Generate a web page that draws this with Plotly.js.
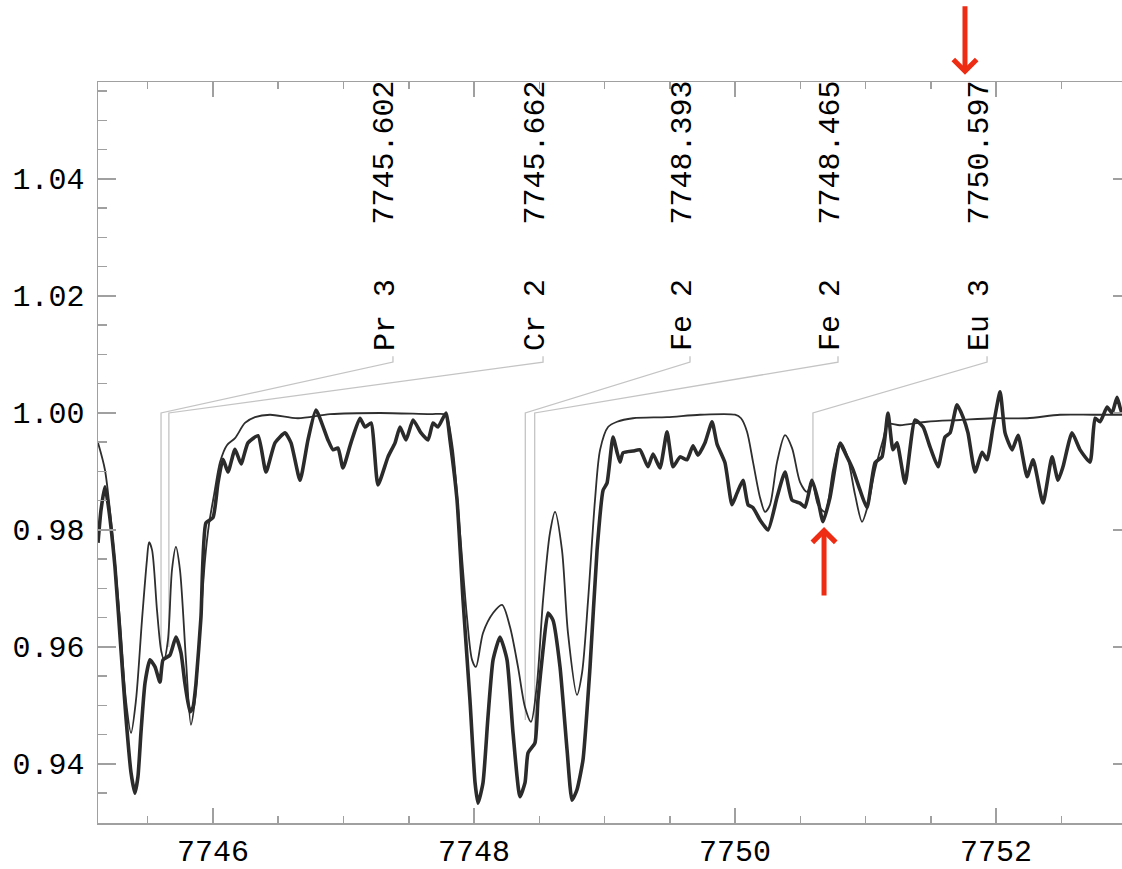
<!DOCTYPE html>
<html>
<head>
<meta charset="utf-8">
<script src="https://cdn.plot.ly/plotly-3.0.1.min.js"></script>
<style>
html,body{margin:0;padding:0;background:#fff;overflow:hidden;}
#chart{width:1140px;height:869px;}
</style>
</head>
<body>
<div id="chart"></div>
<script>
// ---- model (synthetic) spectrum: thin line ----
const modelWave = [
7745.119,7745.172,7745.226,7745.287,7745.333,7745.372,7745.410,7745.456,7745.494,7745.510,
7745.533,7745.571,7745.602,7745.625,7745.655,7745.686,7745.716,7745.747,7745.793,7745.831,
7745.862,7745.900,7745.939,7745.969,7746.008,7746.054,7746.107,7746.169,7746.245,7746.322,
7746.437,7746.651,7746.897,7747.280,7747.663,7747.770,7747.793,7747.839,7747.893,7747.946,
7747.985,7748.015,7748.069,7748.146,7748.215,7748.276,7748.337,7748.391,7748.437,7748.483,
7748.529,7748.582,7748.621,7748.674,7748.720,7748.789,7748.828,7748.874,7748.927,7748.966,
7749.027,7749.096,7749.218,7749.479,7749.732,7750.000,7750.046,7750.092,7750.138,7750.192,
7750.230,7750.268,7750.322,7750.383,7750.437,7750.498,7750.552,7750.590,7750.636,7750.690,
7750.751,7750.805,7750.858,7750.920,7750.973,7751.019,7751.073,7751.134,7751.172,7751.264,
7751.471,7751.724,7751.977,7752.238,7752.490,7752.743,7753.034];
const modelFlux = [
0.9949,0.9903,0.9800,0.9646,0.9509,0.9453,0.9509,0.9646,0.9749,0.9779,
0.9766,0.9663,0.9595,0.9578,0.9612,0.9732,0.9771,0.9732,0.9578,0.9467,
0.9509,0.9629,0.9749,0.9809,0.9860,0.9916,0.9945,0.9957,0.9983,0.9993,
0.9997,0.9991,0.9998,1.0000,0.9998,0.9998,0.9993,0.9937,0.9795,0.9651,
0.9578,0.9566,0.9624,0.9658,0.9672,0.9634,0.9566,0.9497,0.9472,0.9538,
0.9680,0.9795,0.9831,0.9766,0.9624,0.9518,0.9556,0.9680,0.9851,0.9937,
0.9976,0.9985,0.9991,0.9993,0.9997,0.9997,0.9991,0.9968,0.9916,0.9855,
0.9831,0.9843,0.9916,0.9962,0.9940,0.9882,0.9865,0.9882,0.9843,0.9831,
0.9903,0.9950,0.9928,0.9860,0.9814,0.9843,0.9903,0.9954,0.9981,0.9979,
0.9985,0.9988,0.9991,0.9991,0.9997,0.9997,0.9997];

// ---- observed spectrum: thick line ----
const obsWave = [
7745.119,7745.142,7745.172,7745.195,7745.249,7745.295,7745.333,7745.372,7745.402,7745.425,
7745.448,7745.479,7745.517,7745.556,7745.594,7745.617,7745.670,7745.716,7745.755,7745.785,
7745.824,7745.847,7745.870,7745.908,7745.946,7746.000,7746.038,7746.077,7746.115,7746.169,
7746.215,7746.268,7746.345,7746.406,7746.475,7746.552,7746.598,7746.667,7746.728,7746.789,
7746.881,7746.920,7746.958,7746.996,7747.057,7747.126,7747.165,7747.211,7747.264,7747.341,
7747.395,7747.433,7747.479,7747.533,7747.594,7747.648,7747.686,7747.724,7747.785,7747.816,
7747.870,7747.916,7747.969,7748.008,7748.031,7748.069,7748.107,7748.146,7748.199,7748.253,
7748.299,7748.352,7748.391,7748.414,7748.467,7748.490,7748.529,7748.567,7748.605,7748.659,
7748.713,7748.751,7748.789,7748.835,7748.889,7748.943,7748.989,7749.019,7749.065,7749.096,
7749.119,7749.142,7749.218,7749.272,7749.333,7749.372,7749.425,7749.479,7749.525,7749.579,
7749.632,7749.678,7749.716,7749.770,7749.824,7749.862,7749.923,7749.977,7750.015,7750.061,
7750.100,7750.138,7750.192,7750.253,7750.322,7750.383,7750.437,7750.498,7750.536,7750.590,
7750.636,7750.674,7750.728,7750.805,7750.858,7750.904,7750.958,7751.011,7751.073,7751.126,
7751.172,7751.210,7751.241,7751.303,7751.379,7751.441,7751.494,7751.556,7751.609,7751.648,
7751.701,7751.747,7751.785,7751.839,7751.893,7751.931,7751.977,7752.031,7752.069,7752.123,
7752.169,7752.238,7752.284,7752.360,7752.429,7752.475,7752.513,7752.582,7752.644,7752.720,
7752.759,7752.797,7752.851,7752.889,7752.927,7752.966,7753.034];
const obsFlux = [
0.9778,0.9834,0.9874,0.9846,0.9737,0.9595,0.9480,0.9385,0.9350,0.9378,
0.9453,0.9538,0.9578,0.9566,0.9540,0.9578,0.9586,0.9617,0.9590,0.9538,
0.9489,0.9497,0.9538,0.9651,0.9812,0.9821,0.9880,0.9921,0.9899,0.9938,
0.9913,0.9949,0.9961,0.9899,0.9949,0.9966,0.9949,0.9885,0.9954,1.0005,
0.9954,0.9937,0.9940,0.9906,0.9949,0.9991,0.9976,0.9983,0.9877,0.9925,
0.9949,0.9976,0.9954,0.9988,0.9966,0.9954,0.9983,0.9976,1.0000,0.9954,
0.9851,0.9680,0.9509,0.9368,0.9333,0.9368,0.9480,0.9578,0.9617,0.9578,
0.9453,0.9344,0.9368,0.9419,0.9436,0.9509,0.9595,0.9658,0.9646,0.9566,
0.9424,0.9338,0.9356,0.9407,0.9566,0.9766,0.9868,0.9880,0.9959,0.9933,
0.9916,0.9932,0.9935,0.9937,0.9908,0.9930,0.9906,0.9968,0.9908,0.9925,
0.9920,0.9944,0.9928,0.9949,0.9985,0.9947,0.9915,0.9843,0.9863,0.9885,
0.9843,0.9838,0.9817,0.9800,0.9856,0.9899,0.9851,0.9846,0.9839,0.9885,
0.9851,0.9814,0.9856,0.9947,0.9925,0.9903,0.9868,0.9838,0.9915,0.9925,
1.0000,0.9937,0.9949,0.9880,0.9988,0.9976,0.9942,0.9908,0.9959,0.9966,
1.0014,0.9993,0.9966,0.9899,0.9933,0.9920,0.9976,1.0036,0.9966,0.9937,
0.9962,0.9891,0.9920,0.9846,0.9925,0.9885,0.9908,0.9966,0.9937,0.9916,
0.9991,0.9985,1.0010,1.0000,1.0027,1.0000,1.0005];

// ---- line identifications ----
const lineWave  = [7745.602, 7745.662, 7748.393, 7748.465, 7750.597];
const lineIon   = ['Pr 3', 'Cr 2', 'Fe 2', 'Fe 2', 'Eu 3'];
const lineDepth = [0.9590, 0.9600, 0.9475, 0.9430, 0.9875];
const labelWave = [7747.379, 7748.529, 7749.655, 7750.789, 7751.931];
const continuum = 1.0;
const labelFootFlux = 1.0087;
const labelStubFlux = 1.0097;
const ionTextFlux = 1.01675;
const waveTextFlux = 1.04453;

// ---- red arrow markers (tip position, tail offset in px) ----
const arrowWave = [7751.762, 7750.682];
const arrowFlux = [1.0578, 0.9805];
const arrowTail = [-70, 70];

// ---- axes ----
const xRange = [7745.119, 7753.034];
const yRange = [0.92991, 1.05658];

const traces = [];
lineWave.forEach((w, i) => {
  traces.push({
    x: [w, w, labelWave[i], labelWave[i]],
    y: [lineDepth[i], continuum, labelFootFlux, labelStubFlux],
    mode: 'lines', type: 'scatter',
    line: {color: '#c4c4c4', width: 1.3},
    hoverinfo: 'skip', showlegend: false
  });
});
traces.push({
  x: modelWave, y: modelFlux, mode: 'lines', type: 'scatter',
  line: {color: '#2e2e2e', width: 1.8, shape: 'spline', smoothing: 0.8},
  showlegend: false
});
traces.push({
  x: obsWave, y: obsFlux, mode: 'lines', type: 'scatter',
  line: {color: '#2b2b2b', width: 3.6, shape: 'spline', smoothing: 0.5},
  showlegend: false
});

const mono = 'Liberation Mono, Courier New, monospace';
const annotations = [];
lineWave.forEach((w, i) => {
  annotations.push({
    x: labelWave[i], y: waveTextFlux, xref: 'x', yref: 'y',
    text: w.toFixed(3), showarrow: false, textangle: -90,
    xanchor: 'center', yanchor: 'middle', xshift: -7,
    font: {family: mono, size: 30, color: '#000'}
  });
  annotations.push({
    x: labelWave[i], y: ionTextFlux, xref: 'x', yref: 'y',
    text: lineIon[i], showarrow: false, textangle: -90,
    xanchor: 'center', yanchor: 'middle', xshift: -7,
    font: {family: mono, size: 30, color: '#000'}
  });
});
const ySpan = yRange[1] - yRange[0];
arrowWave.forEach((w, i) => {
  annotations.push({
    x: w, y: (arrowFlux[i] - yRange[0]) / ySpan, xref: 'x', yref: 'paper',
    ax: 0, ay: arrowTail[i], text: '', showarrow: true,
    arrowhead: 4, arrowsize: 0.9, arrowwidth: 5, arrowcolor: '#ee2c13', standoff: 0
  });
});

const axisCommon = {
  showline: true, linecolor: '#a0a0a0', linewidth: 1.5, mirror: 'allticks',
  ticks: 'inside', tickcolor: '#a0a0a0', tickwidth: 1.5,
  showgrid: false, zeroline: false,
  tickfont: {family: mono, size: 30, color: '#000'}
};

const layout = {
  width: 1140, height: 869,
  margin: {l: 98, r: 9, t: 82, b: 46},
  paper_bgcolor: '#fff', plot_bgcolor: '#fff',
  showlegend: false,
  xaxis: Object.assign({}, axisCommon, {
    range: xRange, tick0: 7746, dtick: 2, tickformat: 'd', ticklen: 15,
    ticklabelstandoff: 0,
    minor: {dtick: 0.5, ticks: 'inside', ticklen: 7, tickcolor: '#a0a0a0', tickwidth: 1.5}
  }),
  yaxis: Object.assign({}, axisCommon, {
    range: yRange, tick0: 1.0, dtick: 0.02, tickformat: '.2f', ticklen: 18,
    ticklabelstandoff: 6,
    minor: {dtick: 0.005, ticks: 'inside', ticklen: 9, tickcolor: '#a0a0a0', tickwidth: 1.5}
  }),
  annotations: annotations
};

Plotly.newPlot('chart', traces, layout, {displayModeBar: false, staticPlot: true});
</script>
</body>
</html>
